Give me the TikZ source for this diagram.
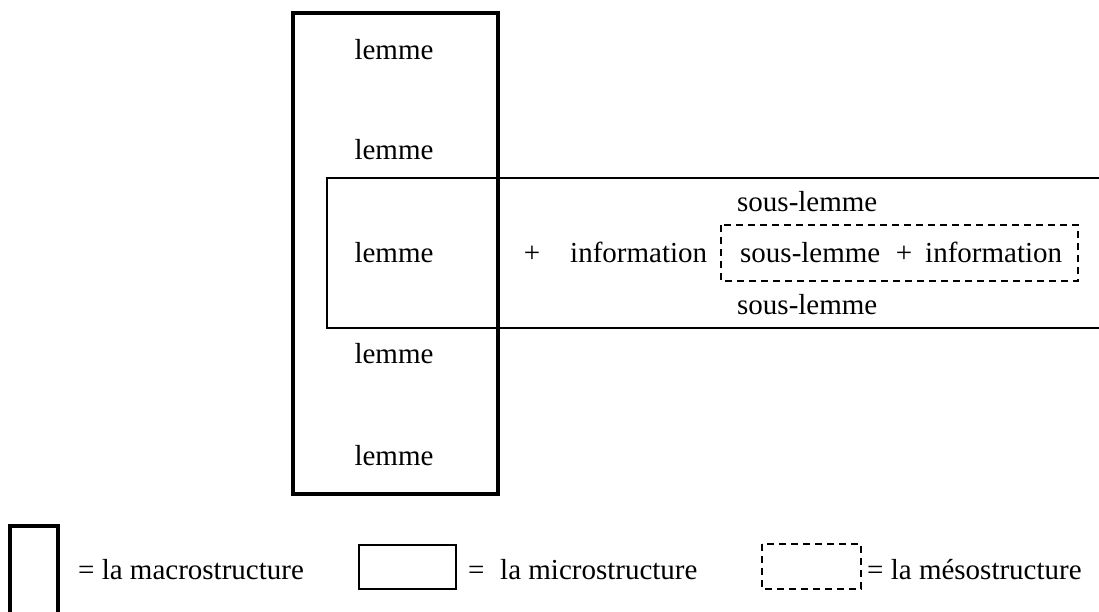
\documentclass[tikz,border=0pt]{standalone}
\usepackage{fontspec}
\setmainfont{Liberation Serif}
\begin{document}
\begin{tikzpicture}[x=1pt,y=-1pt,
  txt/.style={inner sep=0pt,anchor=base,font=\fontsize{29}{32}\selectfont},
  txtl/.style={txt,anchor=base west},
  macro/.style={draw=black,line width=3.2pt},
  micro/.style={draw=black,line width=2pt},
  meso/.style={draw=black,line width=1.8pt,dash pattern=on 7pt off 5pt}]
\useasboundingbox (0,0) rectangle (1099,612);
% macrostructure
\draw[macro] (293,13) rectangle (498,494);
% microstructure (open to the right)
\draw[micro] (1101,178) -- (327,178) -- (327,328) -- (1101,328);
% mesostructure
\draw[meso] (721,225) rectangle (1078,281);
% texts
\node[txt] (l1) at (394,60) {lemme};
\node[txt] (l2) at (394,160) {lemme};
\node[txt] (l3) at (394,262) {lemme};
\node[txt] (l4) at (394,363) {lemme};
\node[txt] (l5) at (394,465) {lemme};
\node[txt] (plus) at (532,262) {+};
\node[txtl] (info) at (570,262) {information};
\node[txtl] (s1) at (737,212) {sous-lemme};
\node[txtl] (s2) at (740,262) {sous-lemme};
\node[txt] (plus2) at (904,262) {+};
\node[txtl] (info2) at (925,262) {information};
\node[txtl] (s3) at (737,314) {sous-lemme};
% legend
\draw[macro] (10,526) rectangle (58,625);
\node[txtl] (lg1) at (78,579) {= la macrostructure};
\draw[micro] (359,545) rectangle (456,589);
\node[txtl] (lg2eq) at (468,579) {=};
\node[txtl] (lg2) at (500,579) {la microstructure};
\draw[meso] (762,544) rectangle (861,589);
\node[txtl] (lg3) at (867,579) {= la mésostructure};
\end{tikzpicture}
\end{document}
